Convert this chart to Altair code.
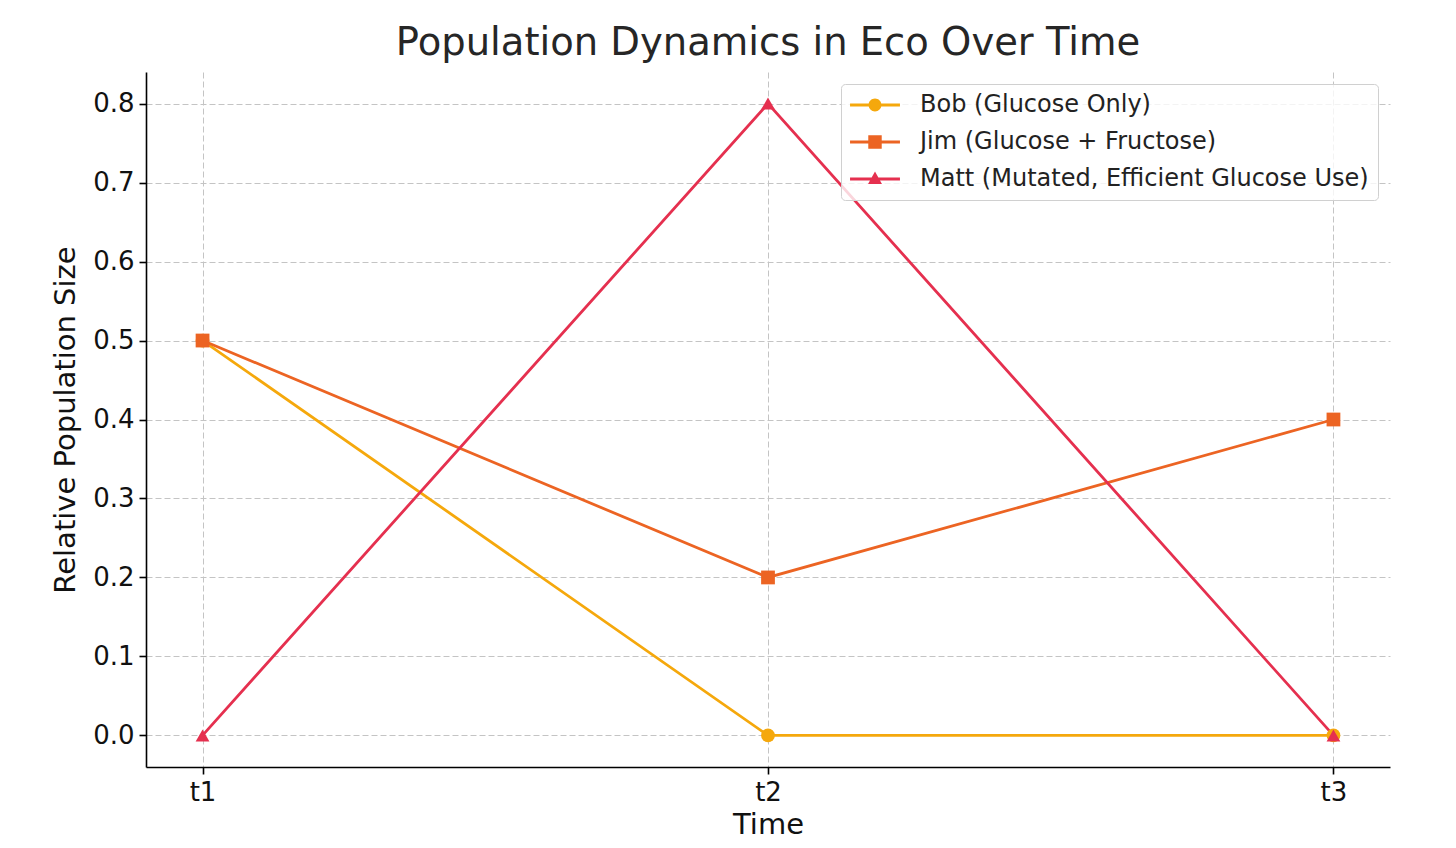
import altair as alt
import pandas as pd

times = ["t1", "t2", "t3"]
series = [
    "Bob (Glucose Only)",
    "Jim (Glucose + Fructose)",
    "Matt (Mutated, Efficient Glucose Use)",
]
bob = [0.5, 0.0, 0.0]
jim = [0.5, 0.2, 0.4]
matt = [0.0, 0.8, 0.0]
y_ticks = [0.0, 0.1, 0.2, 0.3, 0.4, 0.5, 0.6, 0.7, 0.8]

colors = ["#f5a80c", "#ec6423", "#e5304f"]
shapes = ["circle", "square", "triangle-up"]
# legend glyphs (unit = 12px): a short line with the marker on it
legend_glyphs = [
    "M-2.08,-0.12H2.08V0.12H-2.08Z M0.54,0A0.54,0.54 0 1,1 -0.54,0A0.54,0.54 0 1,1 0.54,0Z",
    "M-2.08,-0.12H2.08V0.12H-2.08Z M-0.56,-0.56H0.56V0.56H-0.56Z",
    "M-2.08,-0.12H2.08V0.12H-2.08Z M0,-0.62L0.58,0.42L-0.58,0.42Z",
]

rows = []
for s, vals in zip(series, [bob, jim, matt]):
    for t, v in zip(times, vals):
        rows.append({"Time": t, "value": v, "series": s})
df = pd.DataFrame(rows)

FONT = "DejaVu Sans"

x_enc = alt.X(
    "Time:N",
    sort=times,
    scale=alt.Scale(type="point", domain=times, padding=0.1),
    axis=alt.Axis(title="Time", labelAngle=0, labelPadding=5, titlePadding=5),
)
y_enc = alt.Y(
    "value:Q",
    scale=alt.Scale(domain=[-0.04, 0.84], nice=False, zero=False),
    axis=alt.Axis(title="Relative Population Size", values=y_ticks, format=".1f",
                  labelPadding=5, titlePadding=12),
)

base = alt.Chart(df)

lines = base.mark_line(strokeWidth=2.8).encode(
    x=x_enc, y=y_enc,
    color=alt.Color("series:N", scale=alt.Scale(domain=series, range=colors), legend=None),
)

points = base.mark_point(filled=True, opacity=1, size=190).encode(
    x=x_enc, y=y_enc,
    color=alt.Color("series:N", scale=alt.Scale(domain=series, range=colors), legend=None),
    shape=alt.Shape("series:N", scale=alt.Scale(domain=series, range=shapes), legend=None),
)

leg = dict(
    title=None, orient="top-right", offset=12, padding=9,
    fillColor="rgba(255,255,255,0.8)", strokeColor="#d0d0d0", cornerRadius=4,
    labelFont=FONT, labelFontSize=24, labelColor="#222222", labelLimit=800,
    symbolSize=576, symbolStrokeWidth=0, symbolOpacity=1,
    symbolOffset=13, labelOffset=33, rowPadding=13,
)

legend_layer = base.transform_filter("false").mark_point(filled=True, opacity=1).encode(
    x=x_enc, y=y_enc,
    color=alt.Color("series:N", scale=alt.Scale(domain=series, range=colors),
                    legend=alt.Legend(**leg)),
    shape=alt.Shape("series:N", scale=alt.Scale(domain=series, range=legend_glyphs),
                    legend=alt.Legend(**leg)),
)

chart = (
    alt.layer(lines, points, legend_layer)
    .resolve_scale(color="independent", shape="independent")
    .properties(
        width=1244,
        height=695,
        autosize=alt.AutoSizeParams(type="none"),
        padding={"left": 138, "top": 64, "right": 50, "bottom": 73},
        title=alt.TitleParams(
            "Population Dynamics in Eco Over Time",
            font=FONT, fontSize=38.5, fontWeight="normal", color="#262626",
            offset=9, anchor="middle",
        ),
    )
    .configure_view(stroke=None)
    .configure_axis(
        labelFont=FONT, labelFontSize=26, labelColor="#111111",
        titleFont=FONT, titleFontSize=29, titleFontWeight="normal", titleColor="#111111",
        domainColor="#000000", domainWidth=1.6,
        tickColor="#000000", tickWidth=1.6, tickSize=7,
        grid=True, gridColor="#c4c4c4", gridDash=[6, 3], gridWidth=1,
    )
)

chart.save("out.html", embed_options={"renderer": "svg", "actions": False})
